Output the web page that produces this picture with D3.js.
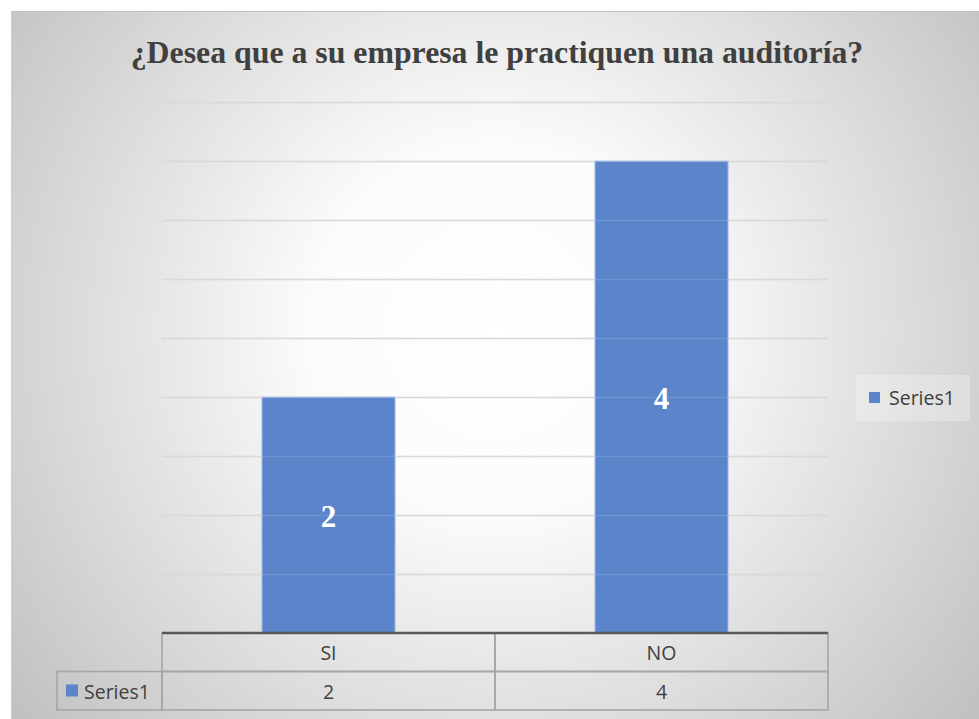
<!DOCTYPE html>
<html>
<head>
<meta charset="utf-8">
<script src="https://cdn.jsdelivr.net/npm/d3@7"></script>
<style>
  body { margin: 0; background: #fff; }
  svg { display: block; }
</style>
</head>
<body>
<div class="container"></div>
<script>
const WIDTH = 979;
const HEIGHT = 719;

var categories = ["SI", "NO"];
var values = [2, 4];
var seriesName = "Series1";
var title = "¿Desea que a su empresa le practiquen una auditoría?";
var gridTicks = [0.5, 1, 1.5, 2, 2.5, 3, 3.5, 4, 4.5];

const BAR_COLOR = "#5b84ca";
const TEXT_COLOR = "#404040";
const PLOT = { left: 162, right: 828, top: 102, bottom: 633 };
const TABLE = { labelLeft: 57, rowH: 38.5 };

var svg = d3.select(".container").append("svg")
    .attr("width", WIDTH)
    .attr("height", HEIGHT);

var defs = svg.append("defs");
var grad = defs.append("radialGradient")
    .attr("id", "bg")
    .attr("gradientUnits", "userSpaceOnUse")
    .attr("cx", 495).attr("cy", 330).attr("r", 620);
grad.append("stop").attr("offset", "0%").attr("stop-color", "#ffffff");
grad.append("stop").attr("offset", "30%").attr("stop-color", "#fbfbfb");
grad.append("stop").attr("offset", "100%").attr("stop-color", "#c0c0c0");

// chart background
svg.append("rect")
    .attr("x", 11).attr("y", 11)
    .attr("width", WIDTH - 11).attr("height", HEIGHT - 11)
    .attr("fill", "url(#bg)");
svg.append("line")
    .attr("x1", 11).attr("x2", WIDTH).attr("y1", 11.5).attr("y2", 11.5)
    .attr("stroke", "#bdbdbd");
svg.append("line")
    .attr("x1", 11.5).attr("x2", 11.5).attr("y1", 11).attr("y2", HEIGHT)
    .attr("stroke", "#d0d0d0");

// title
svg.append("text")
    .attr("x", 497).attr("y", 63)
    .attr("text-anchor", "middle")
    .attr("font-family", "Liberation Serif, serif")
    .attr("font-weight", "bold")
    .attr("font-size", 31.8)
    .attr("fill", TEXT_COLOR)
    .text(title);

var x = d3.scaleBand()
    .domain(categories)
    .range([PLOT.left, PLOT.right])
    .paddingInner(0.6)
    .paddingOuter(0.3);

var y = d3.scaleLinear()
    .domain([0, 4.5])
    .range([PLOT.bottom, PLOT.top]);

var gridY = d => Math.round(y(d)) + 0.5;

// gridlines
svg.append("g")
    .selectAll("line")
    .data(gridTicks)
    .join("line")
    .attr("x1", PLOT.left).attr("x2", PLOT.right)
    .attr("y1", gridY).attr("y2", gridY)
    .attr("stroke", "#d4d4d4")
    .attr("stroke-width", 1.3);

// bars
svg.append("g")
    .selectAll("rect")
    .data(values)
    .join("rect")
    .attr("x", (d, i) => x(categories[i]))
    .attr("y", d => y(d))
    .attr("width", x.bandwidth())
    .attr("height", d => y(0) - y(d))
    .attr("fill", BAR_COLOR)
    .attr("stroke", "#b4c7e9")
    .attr("stroke-width", 1);

// faint gridlines showing through the bars
svg.append("g")
    .selectAll("line")
    .data(gridTicks)
    .join("line")
    .attr("x1", PLOT.left).attr("x2", PLOT.right)
    .attr("y1", gridY).attr("y2", gridY)
    .attr("stroke", "#ffffff")
    .attr("stroke-opacity", 0.12)
    .attr("stroke-width", 1.3);

// data labels
svg.append("g")
    .selectAll("text")
    .data(values)
    .join("text")
    .attr("x", (d, i) => x(categories[i]) + x.bandwidth() / 2)
    .attr("y", d => (y(d) + y(0)) / 2 + 11.5)
    .attr("text-anchor", "middle")
    .attr("font-family", "Liberation Serif, serif")
    .attr("font-weight", "bold")
    .attr("font-size", 31)
    .attr("fill", "#ffffff")
    .text(d => d);

// data table
var t = svg.append("g");
var colW = (PLOT.right - PLOT.left) / categories.length;
var colLeft = i => PLOT.left + i * colW;
var row1 = PLOT.bottom, row2 = PLOT.bottom + TABLE.rowH;

function cell(x0, y0, w) {
    t.append("rect")
        .attr("x", x0).attr("y", y0)
        .attr("width", w).attr("height", TABLE.rowH)
        .attr("fill", "none").attr("stroke", "#a6a6a6").attr("stroke-width", 1.6);
}
function cellText(tx, ty, s, anchor) {
    t.append("text")
        .attr("x", tx).attr("y", ty)
        .attr("text-anchor", anchor || "middle")
        .attr("font-family", "Open Sans, sans-serif")
        .attr("font-size", 19.5)
        .attr("fill", TEXT_COLOR)
        .text(s);
}

cell(TABLE.labelLeft, row2, PLOT.left - TABLE.labelLeft);
categories.forEach(function (c, i) {
    cell(colLeft(i), row1, colW);
    cell(colLeft(i), row2, colW);
    cellText(x(c) + x.bandwidth() / 2, row1 + 27, c);
    cellText(x(c) + x.bandwidth() / 2, row2 + 27, values[i]);
});
t.append("rect")
    .attr("x", 66).attr("y", row2 + 13)
    .attr("width", 12).attr("height", 12)
    .attr("fill", BAR_COLOR);
cellText(84, row2 + 27, seriesName, "start");

// axis baseline
svg.append("line")
    .attr("x1", PLOT.left).attr("x2", PLOT.right)
    .attr("y1", PLOT.bottom).attr("y2", PLOT.bottom)
    .attr("stroke", "#595959").attr("stroke-width", 2.5);

// legend
var lg = svg.append("g");
lg.append("rect")
    .attr("x", 856).attr("y", 375).attr("width", 114).attr("height", 46)
    .attr("fill", "#ffffff").attr("opacity", 0.25);
lg.append("rect")
    .attr("x", 869).attr("y", 392).attr("width", 11).attr("height", 11)
    .attr("fill", BAR_COLOR);
lg.append("text")
    .attr("x", 889).attr("y", 405)
    .attr("font-family", "Open Sans, sans-serif")
    .attr("font-size", 19.5)
    .attr("fill", TEXT_COLOR)
    .text(seriesName);
</script>
</body>
</html>
